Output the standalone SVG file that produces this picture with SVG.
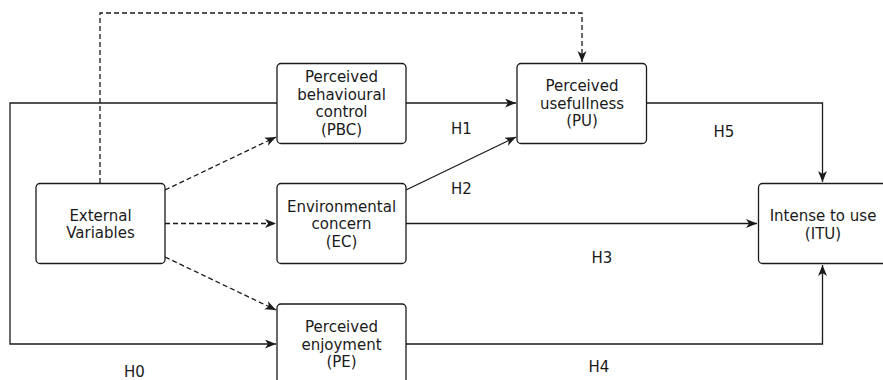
<svg xmlns="http://www.w3.org/2000/svg" width="883" height="380" viewBox="0 0 883 380">
  <style>
    .box { fill: #ffffff; stroke: #1a1a1a; stroke-width: 1.3; }
    .t { font-family: "DejaVu Sans", sans-serif; font-size: 15px; fill: #1a1a1a; text-anchor: middle; }
    .ln { fill: none; stroke: #1a1a1a; stroke-width: 1.3; }
    .dash { stroke-dasharray: 5 3; }
  </style>
  <defs>
    <marker id="arrow" markerUnits="userSpaceOnUse" markerWidth="12" markerHeight="10" refX="11" refY="4.5" orient="auto">
      <path d="M0,0 L11,4.5 L0,9 L3,4.5 Z" fill="#1a1a1a"/>
    </marker>
  </defs>

  <rect width="883" height="380" fill="#ffffff"/>

  <g id="connectors">
    <!-- dashed influences from external variables -->
    <path class="ln dash" d="M100,183 V13 H582 V62" marker-end="url(#arrow)"/>
    <path class="ln dash" d="M165,190 L276,137" marker-end="url(#arrow)"/>
    <path class="ln dash" d="M165,223.5 H276" marker-end="url(#arrow)"/>
    <path class="ln dash" d="M165,257 L276,310" marker-end="url(#arrow)"/>
    <!-- solid hypothesis paths -->
    <path class="ln" d="M277,103 H10 V344 H276" marker-end="url(#arrow)"/>
    <path class="ln" d="M406,103 H516" marker-end="url(#arrow)"/>
    <path class="ln" d="M406,190 L516,137" marker-end="url(#arrow)"/>
    <path class="ln" d="M406,223.5 H757" marker-end="url(#arrow)"/>
    <path class="ln" d="M647,103 H822.5 V182" marker-end="url(#arrow)"/>
    <path class="ln" d="M406,344 H822.5 V265" marker-end="url(#arrow)"/>
  </g>

  <g id="labels">
    <text class="t" x="461.5" y="133.5">H1</text>
    <text class="t" x="461.5" y="193.5">H2</text>
    <text class="t" x="602" y="263">H3</text>
    <text class="t" x="599" y="372">H4</text>
    <text class="t" x="724" y="137">H5</text>
    <text class="t" x="134.5" y="376.5">H0</text>
  </g>

  <g id="ext">
    <rect class="box" x="36" y="183.5" width="129" height="80" rx="4"/>
    <text class="t" x="100.5" y="220.5">External</text>
    <text class="t" x="100.5" y="238">Variables</text>
  </g>

  <g id="pbc">
    <rect class="box" x="277" y="63.5" width="129" height="80" rx="4"/>
    <text class="t" x="341.5" y="82">Perceived</text>
    <text class="t" x="341.5" y="99.5">behavioural</text>
    <text class="t" x="341.5" y="117">control</text>
    <text class="t" x="341.5" y="135">(PBC)</text>
  </g>

  <g id="ec">
    <rect class="box" x="277" y="183.5" width="129" height="80" rx="4"/>
    <text class="t" x="341.5" y="211.5">Environmental</text>
    <text class="t" x="341.5" y="229">concern</text>
    <text class="t" x="341.5" y="246.5">(EC)</text>
  </g>

  <g id="pe">
    <rect class="box" x="277" y="304" width="129" height="80" rx="4"/>
    <text class="t" x="341.5" y="332">Perceived</text>
    <text class="t" x="341.5" y="349.5">enjoyment</text>
    <text class="t" x="341.5" y="367">(PE)</text>
  </g>

  <g id="pu">
    <rect class="box" x="517" y="63.5" width="129.5" height="80" rx="4"/>
    <text class="t" x="582" y="91">Perceived</text>
    <text class="t" x="582" y="108.5">usefullness</text>
    <text class="t" x="582" y="126">(PU)</text>
  </g>

  <g id="itu">
    <rect class="box" x="758.5" y="183.5" width="129" height="80" rx="4"/>
    <text class="t" x="823" y="220.5">Intense to use</text>
    <text class="t" x="823" y="238.5">(ITU)</text>
  </g>
</svg>
